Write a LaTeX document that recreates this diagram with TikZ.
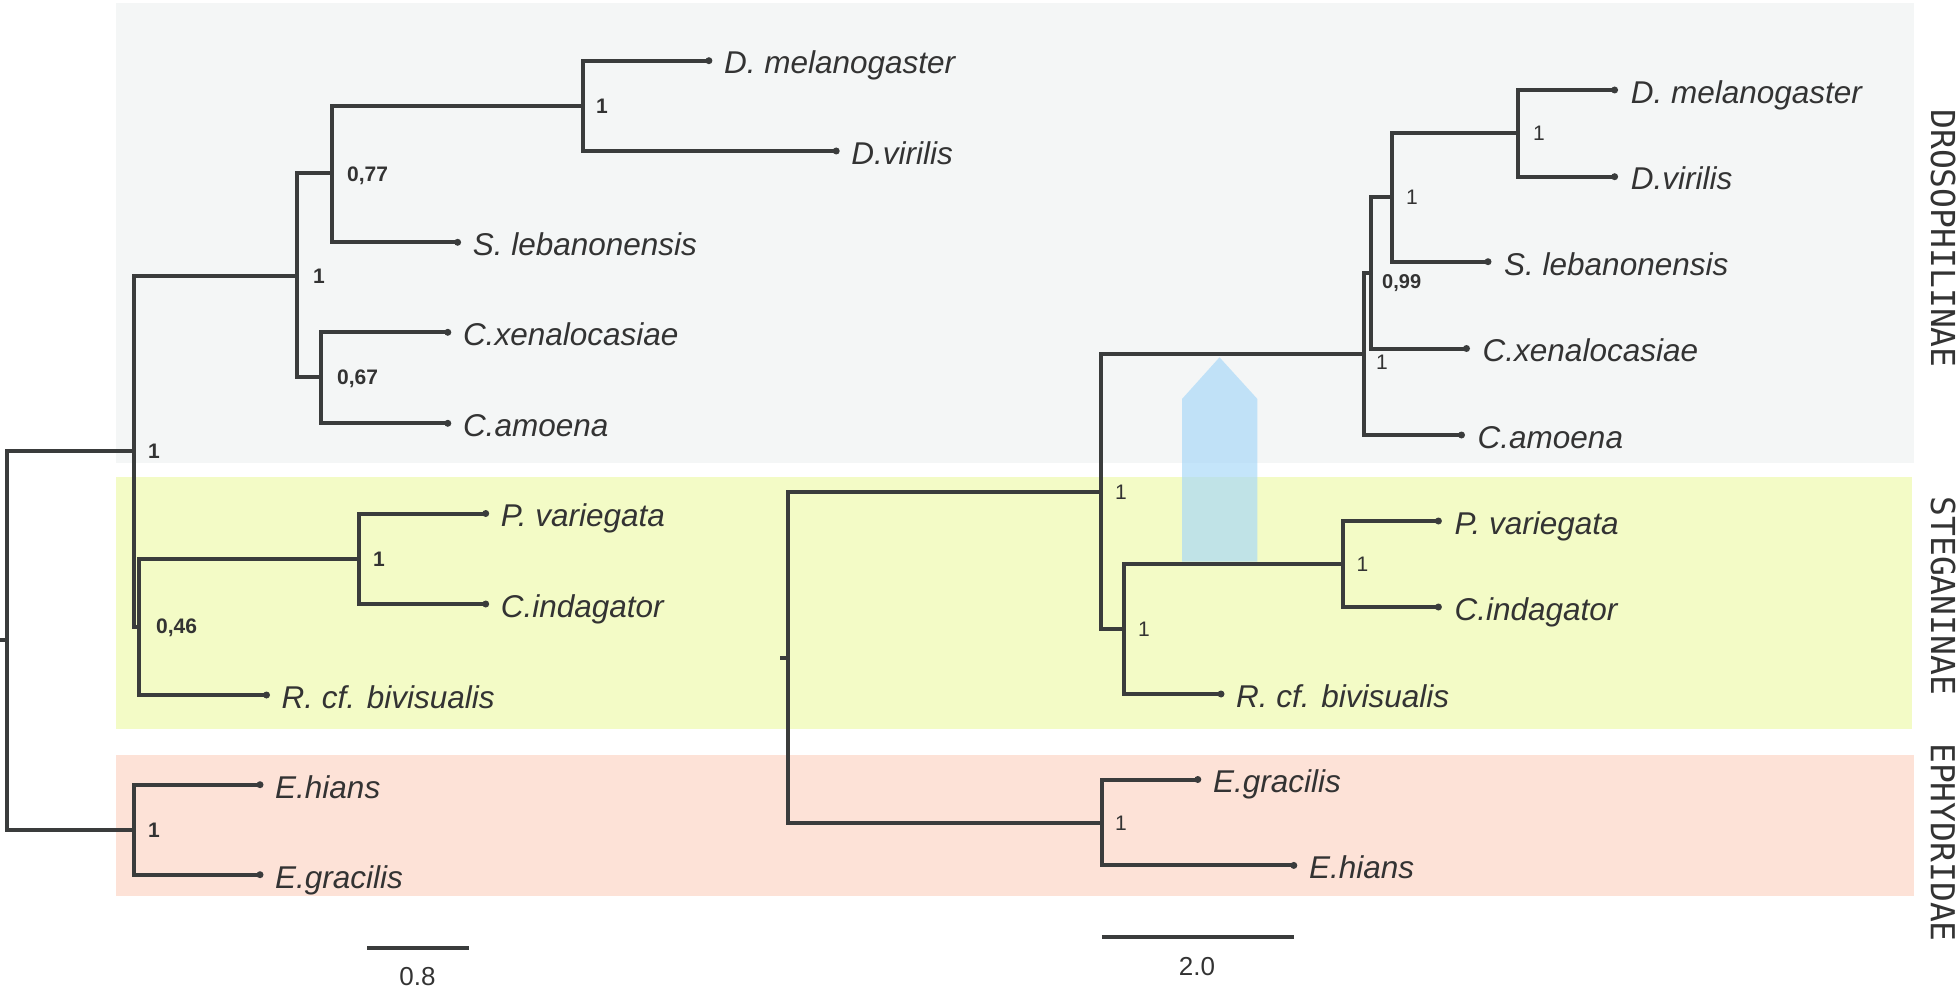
\documentclass[tikz,border=0pt]{standalone}
\usepackage{fontspec}
\newfontfamily\taxfont{Liberation Sans}
\newfontfamily\grpfont{DejaVu Sans Mono}
\usetikzlibrary{calc}
\definecolor{lineC}{RGB}{58,60,60}
\definecolor{textC}{RGB}{51,51,51}
\definecolor{bandGray}{RGB}{244,246,246}
\definecolor{bandYellow}{RGB}{243,251,198}
\definecolor{bandPink}{RGB}{253,226,215}
\definecolor{arrowBlue}{RGB}{168,216,248}
\begin{document}
\begin{tikzpicture}[x=1pt,y=-1pt,
  branch/.style={draw=lineC, line width=4pt, line join=miter},
  taxon/.style={font=\taxfont\itshape\fontsize{31.5}{36}\selectfont, text=textC, anchor=base west, inner sep=0pt},
  supL/.style={font=\taxfont\bfseries\fontsize{21}{24}\selectfont, text=textC, anchor=base west, inner sep=0pt},
  supR/.style={font=\taxfont\fontsize{21}{24}\selectfont, text=textC, anchor=base west, inner sep=0pt},
  supRb/.style={font=\taxfont\bfseries\fontsize{20}{23}\selectfont, text=textC, anchor=base west, inner sep=0pt},
  grp/.style={font=\grpfont\fontsize{33}{38}\selectfont, text=textC, rotate=-90, inner sep=0pt},
  tipdot/.style={fill=lineC, circle, inner sep=0pt, minimum size=7pt},
  scalelab/.style={font=\taxfont\fontsize{26}{29}\selectfont, text=textC, inner sep=0pt}
  ]
\useasboundingbox (0,0) rectangle (1960,995);

% background bands
\fill[bandGray]   (116,2.7) rectangle (1913.6,462.5);
\fill[bandYellow] (116,477) rectangle (1912,729);
\fill[bandPink]   (116,754.5) rectangle (1913.6,895.7);

% blue arrow
\fill[arrowBlue, fill opacity=0.68] (1182,561.7) -- (1257.4,561.7) -- (1257.4,399) -- (1219.5,357.3) -- (1182,399) -- cycle;

% ---------------- left tree ----------------
\coordinate (LrootT) at (0,640.3);
\coordinate (Lroot) at (7.3,640.3);
\coordinate (Lin) at (134,451.2);
\coordinate (Ldros) at (297,275.7);
\coordinate (L077) at (331.7,173.3);
\coordinate (Ldd) at (582.6,105.9);
\coordinate (Ldmel) at (708.9,60.7);
\coordinate (Ldvir) at (836.2,151);
\coordinate (Lsleb) at (457.6,242.3);
\coordinate (L067) at (321,377.3);
\coordinate (Lcxen) at (447.8,332.3);
\coordinate (Lcamo) at (447.8,423.3);
\coordinate (Lsteg) at (139.3,626.7);
\coordinate (Lpc) at (359.3,559.3);
\coordinate (Lpvar) at (485.7,513.5);
\coordinate (Lcind) at (485.7,604);
\coordinate (Lrcf) at (266.5,695);
\coordinate (Leph) at (134,829.6);
\coordinate (Lehia) at (260,784.7);
\coordinate (Legra) at (260,874.7);

\draw[branch] (LrootT) -- (Lroot);
\draw[branch] (Lroot) |- (Lin);
\draw[branch] (Lroot) |- (Leph);
\draw[branch] (Lin) |- (Ldros);
\draw[branch] (Lin) |- (Lsteg);
\draw[branch] (Ldros) |- (L077);
\draw[branch] (Ldros) |- (L067);
\draw[branch] (L077) |- (Ldd);
\draw[branch] (L077) |- (Lsleb);
\draw[branch] (Ldd) |- (Ldmel);
\draw[branch] (Ldd) |- (Ldvir);
\draw[branch] (L067) |- (Lcxen);
\draw[branch] (L067) |- (Lcamo);
\draw[branch] (Lsteg) |- (Lpc);
\draw[branch] (Lsteg) |- (Lrcf);
\draw[branch] (Lpc) |- (Lpvar);
\draw[branch] (Lpc) |- (Lcind);
\draw[branch] (Leph) |- (Lehia);
\draw[branch] (Leph) |- (Legra);

\foreach \t in {Ldmel,Ldvir,Lsleb,Lcxen,Lcamo,Lpvar,Lcind,Lrcf,Lehia,Legra}
  \node[tipdot] (\t Dot) at (\t) {};

\node[taxon] (LdmelT) at ($(Ldmel)+(15,13.3)$) {D. melanogaster};
\node[taxon] (LdvirT) at ($(Ldvir)+(15,13.3)$) {D.virilis};
\node[taxon] (LslebT) at ($(Lsleb)+(15,13.3)$) {S. lebanonensis};
\node[taxon] (LcxenT) at ($(Lcxen)+(15,13.3)$) {C.xenalocasiae};
\node[taxon] (LcamoT) at ($(Lcamo)+(15,13.3)$) {C.amoena};
\node[taxon] (LpvarT) at ($(Lpvar)+(15,13.3)$) {P. variegata};
\node[taxon] (LcindT) at ($(Lcind)+(15,13.3)$) {C.indagator};
\node[taxon] (LrcfT)  at ($(Lrcf)+(15,13.3)$)  {R. cf. bivisualis};
\node[taxon] (LehiaT) at ($(Lehia)+(15,13.3)$) {E.hians};
\node[taxon] (LegraT) at ($(Legra)+(15,13.3)$) {E.gracilis};

\node[supL] (LsDD)   at (596,113.4) {1};
\node[supL] (Ls077)  at (347,181.5) {0,77};
\node[supL] (LsDros) at (313,283.2) {1};
\node[supL] (Ls067)  at (337,384.8) {0,67};
\node[supL] (LsIn)   at (148,458.7) {1};
\node[supL] (LsPC)   at (373,566.5) {1};
\node[supL] (Ls046)  at (156,633.5) {0,46};
\node[supL] (LsEph)  at (148,837.1) {1};

% ---------------- right tree ----------------
\coordinate (RrootT) at (780,657.7);
\coordinate (Rroot) at (788,657.7);
\coordinate (Rin) at (1101,491.7);
\coordinate (Rdros) at (1364,354);
\coordinate (R099) at (1370.8,273);
\coordinate (Rs) at (1391.8,197.4);
\coordinate (Rdd) at (1518,133.4);
\coordinate (Rdmel) at (1614.6,90);
\coordinate (Rdvir) at (1614.6,176.7);
\coordinate (Rsleb) at (1488,261.7);
\coordinate (Rcxen) at (1466.5,348.5);
\coordinate (Rcamo) at (1461.5,435);
\coordinate (Rsteg) at (1123.5,629);
\coordinate (Rpc) at (1342.8,564);
\coordinate (Rpvar) at (1438.4,521);
\coordinate (Rcind) at (1438.4,607);
\coordinate (Rrcf) at (1221,694);
\coordinate (Reph) at (1101.8,822.5);
\coordinate (Regra) at (1197.8,779.5);
\coordinate (Rehia) at (1293.8,865.4);

\draw[branch] (RrootT) -- (Rroot);
\draw[branch] (Rroot) |- (Rin);
\draw[branch] (Rroot) |- (Reph);
\draw[branch] (Rin) |- (Rdros);
\draw[branch] (Rin) |- (Rsteg);
\draw[branch] (Rdros) |- (R099);
\draw[branch] (Rdros) |- (Rcamo);
\draw[branch] (R099) |- (Rs);
\draw[branch] (R099) |- (Rcxen);
\draw[branch] (Rs) |- (Rdd);
\draw[branch] (Rs) |- (Rsleb);
\draw[branch] (Rdd) |- (Rdmel);
\draw[branch] (Rdd) |- (Rdvir);
\draw[branch] (Rsteg) |- (Rpc);
\draw[branch] (Rsteg) |- (Rrcf);
\draw[branch] (Rpc) |- (Rpvar);
\draw[branch] (Rpc) |- (Rcind);
\draw[branch] (Reph) |- (Regra);
\draw[branch] (Reph) |- (Rehia);

\foreach \t in {Rdmel,Rdvir,Rsleb,Rcxen,Rcamo,Rpvar,Rcind,Rrcf,Regra,Rehia}
  \node[tipdot] (\t Dot) at (\t) {};

\node[taxon] (RdmelT) at ($(Rdmel)+(16,13.3)$) {D. melanogaster};
\node[taxon] (RdvirT) at ($(Rdvir)+(16,13.3)$) {D.virilis};
\node[taxon] (RslebT) at ($(Rsleb)+(16,13.3)$) {S. lebanonensis};
\node[taxon] (RcxenT) at ($(Rcxen)+(16,13.3)$) {C.xenalocasiae};
\node[taxon] (RcamoT) at ($(Rcamo)+(16,13.3)$) {C.amoena};
\node[taxon] (RpvarT) at ($(Rpvar)+(16,13.3)$) {P. variegata};
\node[taxon] (RcindT) at ($(Rcind)+(16,13.3)$) {C.indagator};
\node[taxon] (RrcfT)  at ($(Rrcf)+(15,13.3)$)  {R. cf. bivisualis};
\node[taxon] (RegraT) at ($(Regra)+(15,13.3)$) {E.gracilis};
\node[taxon] (RehiaT) at ($(Rehia)+(15,13.3)$) {E.hians};

\node[supR]  (RsDD)   at (1533,140.9) {1};
\node[supR]  (RsS)    at (1406,204.9) {1};
\node[supRb] (Rs099)  at (1382,288) {0,99};
\node[supR]  (RsDros) at (1376,369.2) {1};
\node[supR]  (RsIn)   at (1115,499.2) {1};
\node[supR]  (RsSteg) at (1138,636.5) {1};
\node[supR]  (RsPC)   at (1356.5,571.5) {1};
\node[supR]  (RsEph)  at (1115,830) {1};

% ---------------- scale bars ----------------
\coordinate (SLa) at (367,947.7);
\coordinate (SLb) at (468.8,947.7);
\draw[branch] (SLa) -- (SLb);
\node[scalelab] (SLlab) at (417.4,976.6) {0.8};
\coordinate (SRa) at (1101.8,936.6);
\coordinate (SRb) at (1293.8,936.6);
\draw[branch] (SRa) -- (SRb);
\node[scalelab] (SRlab) at (1196.9,966.2) {2.0};

% ---------------- group labels ----------------
\node[grp] (Gdros) at (1943,238.5) {DROSOPHILINAE};
\node[grp] (Gsteg) at (1943,595.8) {STEGANINAE};
\node[grp] (Geph)  at (1943,842.5) {EPHYDRIDAE};
\end{tikzpicture}
\end{document}
